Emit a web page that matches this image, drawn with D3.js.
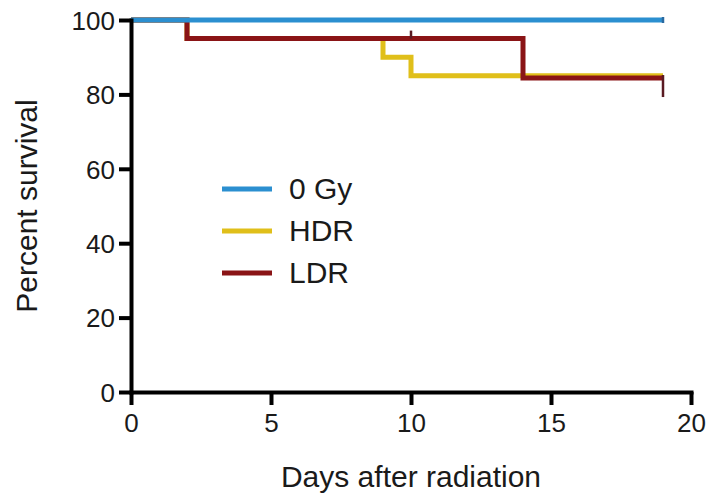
<!DOCTYPE html>
<html>
<head>
<meta charset="utf-8">
<script src="https://cdn.jsdelivr.net/npm/d3@7"></script>
<style>
  body { margin: 0; background: #fff; }
  svg { display: block; font-family: "Liberation Sans", Arial, sans-serif; }
</style>
</head>
<body>
<svg id="chart" width="711" height="496"></svg>
<script>
// Kaplan–Meier survival after radiation
const groups = ["0 Gy", "HDR", "LDR"];
const colors = ["#2b8fd0", "#e0bf1a", "#8a1416"];

const days0Gy = [0, 19];
const surv0Gy = [100, 100];

const daysHDR = [0, 2, 9, 10, 19];
const survHDR = [100, 95, 90, 85, 85];

const daysLDR = [0, 2, 14, 19];
const survLDR = [100, 95, 84.4, 84.4];

// censored observations (day, group index)
const censorDays = [19, 10, 19];
const censorGroup = [0, 2, 2];

const xTicks = [0, 5, 10, 15, 20];
const yTicks = [0, 20, 40, 60, 80, 100];

const svg = d3.select("#chart");
const W = 711, H = 496;
const margin = { left: 131, right: 20, top: 20, bottom: 104 };

const x = d3.scaleLinear().domain([0, 20]).range([margin.left, W - margin.right]);
const y = d3.scaleLinear().domain([0, 100]).range([H - margin.bottom, margin.top]);

const series = [
  { days: days0Gy, surv: surv0Gy },
  { days: daysHDR, surv: survHDR },
  { days: daysLDR, surv: survLDR }
];

const line = d3.line()
  .x(d => x(d[0]))
  .y(d => y(d[1]))
  .curve(d3.curveStepAfter);

// HDR first, then LDR, control group on top
const drawOrder = [1, 2, 0];
drawOrder.forEach(i => {
  const s = series[i];
  const pts = s.days.map((d, j) => [d, s.surv[j]]);
  svg.append("path")
    .datum(pts)
    .attr("d", line)
    .attr("fill", "none")
    .attr("stroke", colors[i])
    .attr("stroke-width", 5);
});

// censor tick marks
censorDays.forEach((d, k) => {
  const g = censorGroup[k];
  const s = series[g];
  let v = s.surv[0];
  s.days.forEach((t, j) => { if (t <= d) v = s.surv[j]; });
  const isEnd = d === s.days[s.days.length - 1];
  let up = 8, down = 0;
  if (g === 0) { up = 3; down = 3; }
  else if (isEnd) { up = 3; down = 19; }
  svg.append("line")
    .attr("x1", x(d)).attr("x2", x(d))
    .attr("y1", y(v) - up)
    .attr("y2", y(v) + down)
    .attr("stroke", g === 0 ? "#2a6aa0" : "#5a1a22")
    .attr("stroke-width", 2.5);
});

// axes
const xAxis = d3.axisBottom(x).tickValues(xTicks).tickSize(13).tickSizeOuter(0).tickPadding(9);
const yAxis = d3.axisLeft(y).tickValues(yTicks).tickSize(12).tickSizeOuter(0).tickPadding(4);

const gx = svg.append("g").attr("transform", `translate(0,${y(0)})`).call(xAxis);
const gy = svg.append("g").attr("transform", `translate(${x(0)},0)`).call(yAxis);

[gx, gy].forEach(g => {
  g.select(".domain").attr("stroke", "#000").attr("stroke-width", 4).attr("stroke-linecap", "square");
  g.selectAll(".tick line").attr("stroke", "#000").attr("stroke-width", 4);
  g.selectAll(".tick text")
    .attr("fill", "#1a1a1a")
    .style("font-size", "26px")
    .style("font-family", "'Liberation Sans', Arial, sans-serif");
});
gy.selectAll(".tick text").attr("dy", "0.36em");

// axis titles
svg.append("text")
  .attr("x", (x(0) + x(20)) / 2)
  .attr("y", 487)
  .attr("text-anchor", "middle")
  .style("font-size", "30px")
  .attr("fill", "#1a1a1a")
  .text("Days after radiation");

svg.append("text")
  .attr("transform", `translate(37,${(y(0) + y(100)) / 2}) rotate(-90)`)
  .attr("text-anchor", "middle")
  .style("font-size", "30px")
  .attr("fill", "#1a1a1a")
  .text("Percent survival");

// legend
const legend = svg.append("g");
groups.forEach((name, i) => {
  const ly = 189 + i * 42;
  legend.append("line")
    .attr("x1", 222).attr("x2", 272)
    .attr("y1", ly).attr("y2", ly)
    .attr("stroke", colors[i])
    .attr("stroke-width", 5);
  legend.append("text")
    .attr("x", 289).attr("y", ly + 10)
    .style("font-size", "30px")
    .attr("fill", "#1a1a1a")
    .text(name);
});
</script>
</body>
</html>
